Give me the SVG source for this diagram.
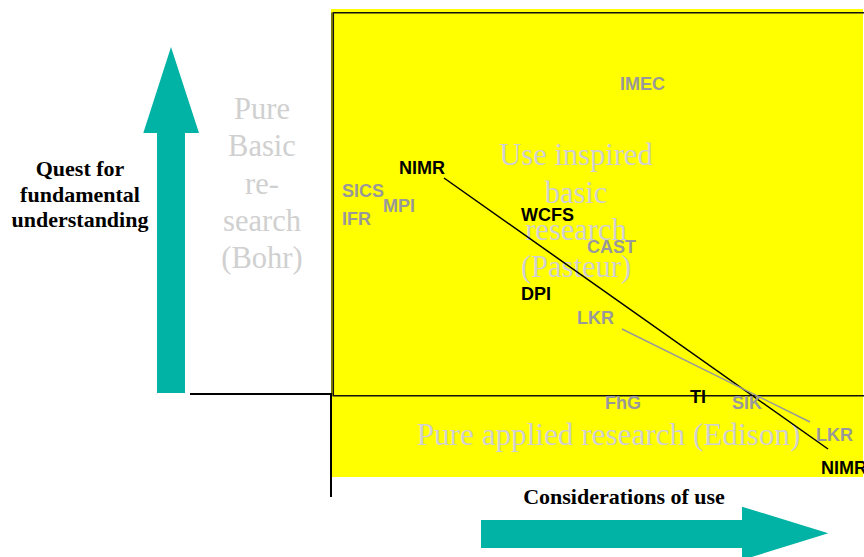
<svg xmlns="http://www.w3.org/2000/svg" width="864" height="557" viewBox="0 0 864 557">
  <style>
    .lbl { font-family: "Liberation Sans", Arial, sans-serif; font-weight: bold; font-size: 18px; }
    .g { fill: #999999; }
    .k { fill: #000000; }
    .big { font-family: "Liberation Serif", "Times New Roman", serif; font-size: 30.5px; fill: #D0D0D0; text-anchor: middle; }
    .axis { font-family: "Liberation Serif", "Times New Roman", serif; font-weight: bold; font-size: 22px; fill: #000000; text-anchor: middle; }
    .arrow { fill: #00B3A4; }
  </style>
  <rect width="864" height="557" fill="#FFFFFF"/>
  <g id="quadrant-area">
    <rect x="331" y="9" width="532" height="468" fill="#FFFF00"/>
    <path d="M864 12.7 H333.3 V395.7 H864" fill="none" stroke="#111111" stroke-width="1.5"/>
    <path d="M331.8 12.5 V396" fill="none" stroke="#111111" stroke-width="0.8"/>
  </g>
  <g id="axis-frame">
    <polyline points="190,394 331,394 331,497" fill="none" stroke="#000000" stroke-width="2"/>
  </g>
  <g id="arrow-up">
    <polygon class="arrow" points="157,393 157,133 143.3,133 171,47 199,133 185,133 185,393"/>
  </g>
  <g id="arrow-right">
    <polygon class="arrow" points="481,520 742,520 742,506.7 828.3,533.3 742,560 742,548 481,548"/>
  </g>
  <g id="label-quest">
    <text class="axis" x="80" y="176">Quest for</text>
    <text class="axis" x="80" y="201.5">fundamental</text>
    <text class="axis" x="80" y="226.7">understanding</text>
  </g>
  <g id="label-considerations">
    <text class="axis" x="624" y="504">Considerations of use</text>
  </g>
  <g id="quadrant-bohr">
    <text class="big" x="262" y="119">Pure</text>
    <text class="big" x="262" y="156">Basic</text>
    <text class="big" x="262" y="193.5">re-</text>
    <text class="big" x="262" y="231">search</text>
    <text class="big" x="262" y="268">(Bohr)</text>
  </g>
  <g id="quadrant-pasteur">
    <text class="big" x="576" y="165">Use inspired</text>
    <text class="big" x="576" y="202.5">basic</text>
    <text class="big" x="576" y="240">research</text>
    <text class="big" x="576" y="277">(Pasteur)</text>
  </g>
  <g id="quadrant-edison">
    <text class="big" x="608.5" y="444.5" style="font-size:31.2px">Pure applied research (Edison)</text>
  </g>
  <g id="connectors">
    <line x1="444" y1="178" x2="828" y2="449" stroke="#000000" stroke-width="1.5"/>
    <line x1="622" y1="329" x2="810" y2="422" stroke="#999999" stroke-width="1.5"/>
  </g>
  <g id="node-imec"><text class="lbl g" x="620" y="90">IMEC</text></g>
  <g id="node-nimr-1"><text class="lbl k" x="399" y="174">NIMR</text></g>
  <g id="node-sics"><text class="lbl g" x="342" y="196.5">SICS</text></g>
  <g id="node-mpi"><text class="lbl g" x="383" y="211.5">MPI</text></g>
  <g id="node-ifr"><text class="lbl g" x="342" y="225">IFR</text></g>
  <g id="node-wcfs"><text class="lbl k" x="521" y="220.5">WCFS</text></g>
  <g id="node-cast"><text class="lbl g" x="587" y="252.5">CAST</text></g>
  <g id="node-dpi"><text class="lbl k" x="521" y="299.5">DPI</text></g>
  <g id="node-lkr-1"><text class="lbl g" x="577" y="324">LKR</text></g>
  <g id="node-fhg"><text class="lbl g" x="605" y="409">FhG</text></g>
  <g id="node-ti"><text class="lbl k" x="690" y="402.5">TI</text></g>
  <g id="node-sik"><text class="lbl g" x="732" y="409">SIK</text></g>
  <g id="node-lkr-2"><text class="lbl g" x="816" y="440.5">LKR</text></g>
  <g id="node-nimr-2"><text class="lbl k" x="821" y="474">NIMR</text></g>
</svg>
